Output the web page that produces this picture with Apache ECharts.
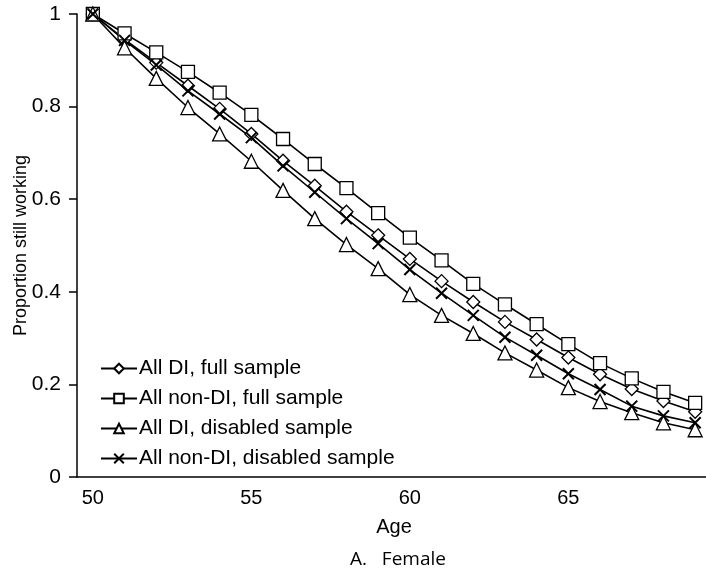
<!DOCTYPE html>
<html>
<head>
<meta charset="utf-8">
<script src="https://cdn.jsdelivr.net/npm/echarts@6/dist/echarts.min.js"></script>
<style>
html,body{margin:0;padding:0;background:#fff;}
#chart{width:706px;height:574px;}
</style>
</head>
<body>
<div id="chart"></div>
<script>
var ages = ['50','51','52','53','54','55','56','57','58','59','60','61','62','63','64','65','66','67','68','69'];
var diFull = [1.0, 0.945, 0.895, 0.845, 0.795, 0.741, 0.683, 0.629, 0.573, 0.522, 0.471, 0.423, 0.378, 0.335, 0.297, 0.258, 0.222, 0.190, 0.164, 0.141];
var nonDiFull = [1.0, 0.958, 0.917, 0.875, 0.830, 0.782, 0.730, 0.676, 0.624, 0.570, 0.517, 0.468, 0.417, 0.373, 0.330, 0.287, 0.246, 0.213, 0.184, 0.160];
var diDisabled = [1.0, 0.927, 0.861, 0.798, 0.741, 0.682, 0.619, 0.558, 0.502, 0.450, 0.394, 0.349, 0.310, 0.268, 0.231, 0.193, 0.163, 0.139, 0.117, 0.102];
var nonDiDisabled = [1.0, 0.943, 0.890, 0.834, 0.784, 0.733, 0.672, 0.615, 0.558, 0.504, 0.448, 0.397, 0.349, 0.302, 0.263, 0.223, 0.189, 0.153, 0.132, 0.117];
var seriesNames = ['All DI, full sample', 'All non-DI, full sample', 'All DI, disabled sample', 'All non-DI, disabled sample'];
var yTicks = ['0', '0.2', '0.4', '0.6', '0.8', '1'];

var FONT = '"Liberation Sans", Arial, sans-serif';
var xPath = 'path://M0,0L10,10M10,0L0,10';

function mk(name, data, symbol, size, bw) {
  return {
    name: name, type: 'line', data: data,
    symbol: symbol, symbolSize: size, showAllSymbol: true,
    lineStyle: {color: '#000', width: 1.6},
    itemStyle: {color: '#fff', borderColor: '#000', borderWidth: bw},
    emphasis: {disabled: true},
    animation: false
  };
}

var chart = echarts.init(document.getElementById('chart'), null, {renderer: 'canvas'});
chart.setOption({
  backgroundColor: '#fff',
  animation: false,
  title: {
    text: 'A.   Female', left: 393, top: 545, textAlign: 'center',
    textStyle: {fontFamily: '"Open Sans", sans-serif', fontSize: 19, fontWeight: 'normal', color: '#000'}
  },
  grid: {left: 77, top: 14, width: 634, height: 463, containLabel: false, outerBoundsMode: 'none'},
  legend: {
    orient: 'vertical', left: 95, top: 353,
    itemWidth: 36, itemHeight: 12, itemGap: 9,
    textStyle: {fontFamily: FONT, fontSize: 21, color: '#000', padding: [0,0,0,-3]},
    data: seriesNames,
    inactiveColor: '#000'
  },
  xAxis: {
    type: 'category', data: ages, boundaryGap: true,
    name: 'Age', nameLocation: 'middle', nameGap: 40,
    nameTextStyle: {fontFamily: FONT, fontSize: 20, color: '#000'},
    axisLine: {lineStyle: {color: '#000', width: 1.5}},
    axisTick: {interval: 4, length: 6, lineStyle: {color: '#000', width: 1.5}},
    axisLabel: {interval: 4, margin: 11, fontFamily: FONT, fontSize: 20, color: '#000'},
    splitLine: {show: false}
  },
  yAxis: {
    type: 'value', min: 0, max: 1, interval: 0.2,
    name: 'Proportion still working', nameLocation: 'middle', nameGap: 47,
    nameMoveOverlap: false,
    nameTextStyle: {fontFamily: FONT, fontSize: 18, color: '#000'},
    axisLine: {show: true, lineStyle: {color: '#000', width: 1.5}},
    axisTick: {show: true, length: 8, lineStyle: {color: '#000', width: 1.5}},
    axisLabel: {margin: 16, fontFamily: FONT, fontSize: 21, color: '#000',
      formatter: function (v) { return yTicks[Math.round(v * 5)]; }},
    splitLine: {show: false}
  },
  series: [
    mk(seriesNames[0], diFull, 'diamond', 13, 1.3),
    mk(seriesNames[1], nonDiFull, 'rect', 13, 1.3),
    mk(seriesNames[2], diDisabled, 'triangle', 14, 1.3),
    mk(seriesNames[3], nonDiDisabled, xPath, 11, 2)
  ]
});
</script>
</body>
</html>
